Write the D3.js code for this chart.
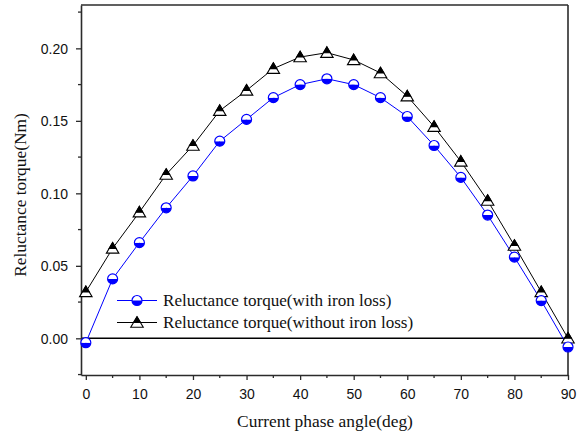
<!DOCTYPE html>
<html>
<head>
<meta charset="utf-8">
<script src="https://cdn.jsdelivr.net/npm/d3@7"></script>
<style>
  html, body { margin: 0; padding: 0; background: #fff; }
  svg { display: block; }
</style>
</head>
<body>
<svg id="chart" width="581" height="437"></svg>
<script>
// Current phase angle (deg)
const angles = [0, 5, 10, 15, 20, 25, 30, 35, 40, 45, 50, 55, 60, 65, 70, 75, 80, 85, 90];
// Reluctance torque (Nm), with iron loss
const torqueWithLoss = [-0.003, 0.041, 0.066, 0.090, 0.112, 0.136, 0.151, 0.166, 0.175, 0.179, 0.175, 0.166, 0.153, 0.133, 0.111, 0.085, 0.056, 0.026, -0.006];
// Reluctance torque (Nm), without iron loss
const torqueWithoutLoss = [0.032, 0.062, 0.087, 0.113, 0.133, 0.157, 0.171, 0.186, 0.194, 0.197, 0.192, 0.183, 0.167, 0.146, 0.122, 0.095, 0.064, 0.032, 0.000];

const xTicks = [0, 10, 20, 30, 40, 50, 60, 70, 80, 90];
const yTicks = [0.00, 0.05, 0.10, 0.15, 0.20];
const seriesNames = ["Reluctance torque(with iron loss)", "Reluctance torque(without iron loss)"];

const svg = d3.select("#chart");
const m = { left: 81, right: 568, top: 5, bottom: 375 };

const x = d3.scaleLinear().domain([-0.9, 90]).range([m.left, m.right]);
const y = d3.scaleLinear().domain([-0.0253, 0.2299]).range([m.bottom, m.top]);

const frameColor = "#2b2b2b";
const serif = "'Liberation Serif', 'Times New Roman', serif";

// Frame: top and right edges
svg.append("line").attr("x1", m.left).attr("x2", m.right).attr("y1", m.top).attr("y2", m.top)
  .attr("stroke", frameColor).attr("stroke-width", 1.6);
svg.append("line").attr("x1", m.right).attr("x2", m.right).attr("y1", m.top).attr("y2", m.bottom)
  .attr("stroke", frameColor).attr("stroke-width", 1.6);

// Zero reference line
svg.append("line").attr("x1", m.left).attr("x2", m.right).attr("y1", y(0)).attr("y2", y(0))
  .attr("stroke", "#000").attr("stroke-width", 1.5);

// Minor ticks
const xMinor = d3.range(5, 90, 10);
const yMinor = [-0.025, 0.025, 0.075, 0.125, 0.175, 0.225];

// Bottom axis
const xAxis = svg.append("g").attr("transform", `translate(0,${m.bottom})`)
  .call(d3.axisBottom(x).tickValues(xTicks).tickFormat(d3.format("d")).tickSize(5).tickPadding(9).tickSizeOuter(0));
xAxis.append("g").selectAll("line").data(xMinor).join("line")
  .attr("x1", d => x(d)).attr("x2", d => x(d)).attr("y1", 0).attr("y2", 3)
  .attr("stroke", frameColor).attr("stroke-width", 1.3);

// Left axis
const yAxis = svg.append("g").attr("transform", `translate(${m.left},0)`)
  .call(d3.axisLeft(y).tickValues(yTicks).tickFormat(d3.format(".2f")).tickSize(5).tickPadding(8).tickSizeOuter(0));
yAxis.append("g").selectAll("line").data(yMinor).join("line")
  .attr("y1", d => y(d)).attr("y2", d => y(d)).attr("x1", 0).attr("x2", -3)
  .attr("stroke", frameColor).attr("stroke-width", 1.3);

[xAxis, yAxis].forEach(a => {
  a.select(".domain").attr("stroke", frameColor).attr("stroke-width", 1.6);
  a.selectAll(".tick line").attr("stroke", frameColor).attr("stroke-width", 1.3);
  a.selectAll(".tick text").attr("fill", "#111")
    .style("font-family", "'Liberation Sans', Arial, sans-serif").style("font-size", "14px");
});
yAxis.selectAll(".tick text").attr("dy", "0.35em");

// Axis titles
svg.append("text").attr("x", 325).attr("y", 427)
  .attr("text-anchor", "middle")
  .style("font-family", serif).style("font-size", "17.4px")
  .attr("fill", "#111").text("Current phase angle(deg)");
svg.append("text").attr("transform", `translate(26,195) rotate(-90)`)
  .attr("text-anchor", "middle")
  .style("font-family", serif).style("font-size", "17.4px")
  .attr("fill", "#111").text("Reluctance torque(Nm)");

// Half-filled circle marker (white top, blue bottom)
function circleMarker(g, cx, cy) {
  const r = 5;
  g.append("path")
    .attr("d", `M${cx - r},${cy} A${r},${r} 0 0 0 ${cx + r},${cy} Z`)
    .attr("fill", "#0000ff");
  g.append("path")
    .attr("d", `M${cx - r},${cy} A${r},${r} 0 0 1 ${cx + r},${cy} Z`)
    .attr("fill", "#fff");
  g.append("circle").attr("cx", cx).attr("cy", cy).attr("r", r)
    .attr("fill", "none").attr("stroke", "#0000ff").attr("stroke-width", 1.2);
}

// Half-filled triangle marker (black top, white bottom)
function triangleMarker(g, cx, cy) {
  const h = 10.5, w = 12.5;
  const top = cy - h * 0.55, base = cy + h * 0.45;
  const midY = cy;
  const t = (midY - top) / (base - top);
  const halfW = (w / 2) * t;
  g.append("path")
    .attr("d", `M${cx},${top} L${cx + w / 2},${base} L${cx - w / 2},${base} Z`)
    .attr("fill", "#fff").attr("stroke", "#000").attr("stroke-width", 1.1);
  g.append("path")
    .attr("d", `M${cx},${top} L${cx + halfW},${midY} L${cx - halfW},${midY} Z`)
    .attr("fill", "#000").attr("stroke", "#000").attr("stroke-width", 1.1);
}

const line = d3.line().x(d => x(d[0])).y(d => y(d[1]));
const withData = angles.map((a, i) => [a, torqueWithLoss[i]]);
const withoutData = angles.map((a, i) => [a, torqueWithoutLoss[i]]);

// Series lines
svg.append("path").datum(withoutData).attr("d", line)
  .attr("fill", "none").attr("stroke", "#000").attr("stroke-width", 1);
svg.append("path").datum(withData).attr("d", line)
  .attr("fill", "none").attr("stroke", "#0000ff").attr("stroke-width", 1);

// Series markers
const gTri = svg.append("g");
withoutData.forEach(d => triangleMarker(gTri, x(d[0]), y(d[1])));
const gCir = svg.append("g");
withData.forEach(d => circleMarker(gCir, x(d[0]), y(d[1])));

// Legend
const legend = svg.append("g");
const legendRows = [
  { name: seriesNames[0], color: "#0000ff", marker: circleMarker, yPos: 300.5 },
  { name: seriesNames[1], color: "#000", marker: triangleMarker, yPos: 322.5 }
];
legendRows.forEach(r => {
  legend.append("line").attr("x1", 117).attr("x2", 157).attr("y1", r.yPos).attr("y2", r.yPos)
    .attr("stroke", r.color).attr("stroke-width", 1);
  r.marker(legend, 137, r.yPos);
  legend.append("text").attr("x", 163).attr("y", r.yPos).attr("dy", "0.33em")
    .style("font-family", serif).style("font-size", "17.1px")
    .attr("fill", "#111").text(r.name);
});
</script>
</body>
</html>
